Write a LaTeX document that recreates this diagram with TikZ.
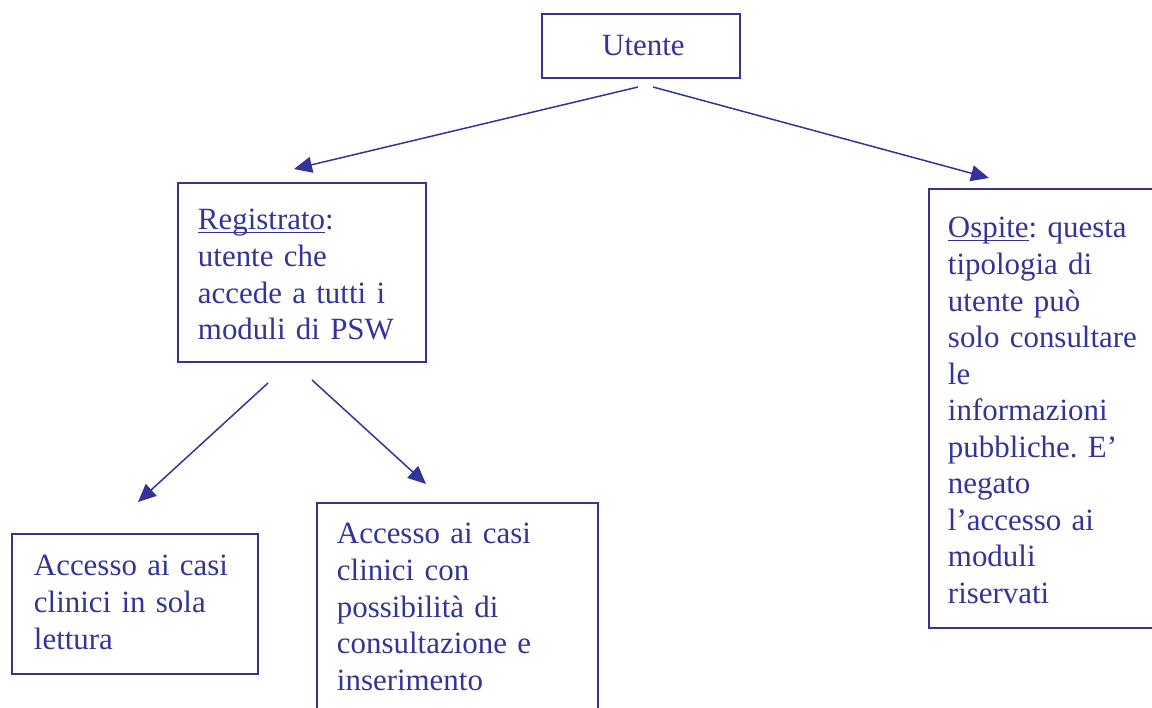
\documentclass[tikz,border=0pt]{standalone}
\usepackage{fontspec}
\setmainfont{Liberation Serif}
\usetikzlibrary{arrows.meta}
\definecolor{pswblue}{RGB}{51,51,153}
\newcommand\sottolinea[1]{\setbox0\hbox{#1}\rlap{\rule[-1.6pt]{\wd0}{0.6pt}}\box0}
\frenchspacing

\begin{document}
\begin{tikzpicture}[x=0.02cm,y=-0.02cm,font=\fontsize{17.6}{20.8}\selectfont,text=pswblue]
        \tikzstyle{box}=[draw=pswblue,line width=1.1pt,anchor=north west,align=left,inner ysep=0pt]
        \tikzstyle{arrow}=[draw=pswblue,line width=0.85pt,-{Triangle[length=0.36cm,width=0.32cm]}]
        \useasboundingbox (0,0) rectangle (1152,707);

        \node[box,inner xsep=0pt,text width=3.96cm,align=center,text height=0.84cm,text depth=0.44cm] (utente) at (541,13) {\hspace*{0.1cm}Utente};
        \node[box,inner xsep=0.4cm,text width=4.16cm,text height=0.94cm,text depth=2.64cm] (registrato) at (177,182)
                {\sottolinea{Registrato}:\\utente che\\accede a tutti i\\moduli di PSW};
        \node[box,inner xsep=0.38cm,text width=4.2cm,text height=0.98cm,text depth=7.8cm] (ospite) at (928,188)
                {\sottolinea{Ospite}: questa\\tipologia di\\utente può\\solo consultare\\le\\informazioni\\pubbliche. E’\\negato\\l’accesso ai\\moduli\\riservati};
        \node[box,inner xsep=0.44cm,text width=4.04cm,text height=0.84cm,text depth=1.96cm] (lettura) at (11,533)
                {Accesso ai casi\\clinici in sola\\lettura};
        \node[box,inner xsep=0.4cm,text width=4.82cm,text height=0.82cm,text depth=4cm] (inserimento) at (316,502)
                {Accesso ai casi\\clinici con\\possibilità di\\consultazione e\\inserimento};

        \coordinate (utente-l) at (638,87);
        \coordinate (reg-in) at (294,169);
        \coordinate (utente-r) at (653,87);
        \coordinate (osp-in) at (989,178);
        \coordinate (reg-l) at (268,383);
        \coordinate (let-in) at (138,502);
        \coordinate (reg-r) at (312,380);
        \coordinate (ins-in) at (426,484);

        \foreach \from/\to in {utente-l/reg-in, utente-r/osp-in, reg-l/let-in, reg-r/ins-in}
                \draw[arrow] (\from) -- (\to);
\end{tikzpicture}
\end{document}
